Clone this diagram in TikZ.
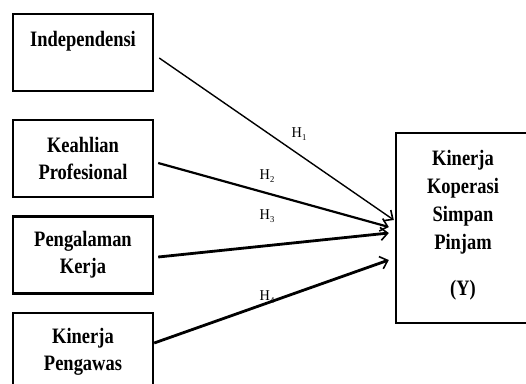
\documentclass[tikz,border=0pt]{standalone}
\usepackage{fontspec}
\setmainfont{Liberation Serif}
\newfontfamily\boxfont[FakeStretch=0.84]{Liberation Serif}
\newfontfamily\hfont[FakeStretch=0.95]{Liberation Serif}
\usetikzlibrary{calc,arrows.meta}
\begin{document}
\begin{tikzpicture}[x=1pt,y=-1pt,
  varbox/.style={draw,line width=2.4pt,minimum width=140pt,minimum height=77pt,
    inner sep=0pt,align=center,font=\boxfont\fontsize{22}{27}\selectfont\bfseries},
  hlabel/.style={inner sep=0pt,font=\hfont\fontsize{15}{16}\selectfont},
  link/.style={-{Straight Barb[length=7pt,width=13pt,line width=1.6pt]}},
]
\useasboundingbox (0,0) rectangle (526,383);
\clip (0,0) rectangle (526,383);
\node[varbox] (ind) at (83,52.5) {\raisebox{-4pt}[\height][\depth]{Independensi}\\ \strut};
\node[varbox] (kea) at (83,158.5) {Keahlian\\Profesional};
\node[varbox] (pen) at (83,255) {Pengalaman\\Kerja};
\node[varbox] (kp) at (83,351.5) {Kinerja\\Pengawas};
\node[varbox,minimum width=134pt,minimum height=190pt] (Y) at (463,228) {};
\node[inner sep=0pt,align=center,font=\boxfont\fontsize{22}{28}\selectfont\bfseries] (Ytext) at (463,225.5) {Kinerja\\Koperasi\\Simpan\\Pinjam\\[18pt](Y)};
\draw[link,line width=1.4pt] ($(ind.east)+(5,5.5)$) -- ($(Y.west)+(-1,-8)$);
\draw[link,line width=2.2pt] ($(kea.east)+(4,4.5)$) -- ($(Y.west)+(-6,-1)$);
\draw[link,line width=2.8pt] ($(pen.east)+(4,2)$) -- ($(Y.west)+(-6,5)$);
\draw[link,line width=2.8pt] ($(kp.east)+(0,-8.5)$) -- ($(Y.west)+(-6,32)$);
\node[hlabel] (h1) at (299,134) {H\raisebox{-2.5pt}{\fontsize{9}{9}\selectfont 1}};
\node[hlabel] (h2) at (267,176) {H\raisebox{-2.5pt}{\fontsize{9}{9}\selectfont 2}};
\node[hlabel] (h3) at (267,216) {H\raisebox{-2.5pt}{\fontsize{9}{9}\selectfont 3}};
\node[hlabel] (h4) at (267,297) {H\raisebox{-2.5pt}{\fontsize{9}{9}\selectfont 4}};
\end{tikzpicture}
\end{document}
